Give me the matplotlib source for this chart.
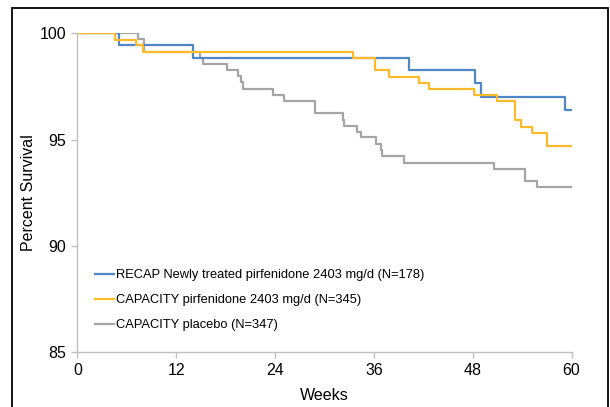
import matplotlib
matplotlib.use("Agg")
import matplotlib.pyplot as plt
from matplotlib.patches import Rectangle

plt.rcParams["font.family"] = ["Liberation Sans", "DejaVu Sans"]

# Kaplan-Meier style step data (weeks, percent survival)
recap_weeks = [0, 5.0, 14.0, 40.2, 48.3, 49.0, 59.2, 60]
recap_surv = [100, 99.47, 98.86, 98.26, 97.66, 97.02, 96.38, 96.38]

pirf_weeks = [0, 4.5, 7.1, 8.0, 33.4, 36.1, 37.8, 41.5, 42.7, 48.2, 51.0,
              53.1, 53.9, 55.2, 57.0, 60]
pirf_surv = [100, 99.70, 99.44, 99.12, 98.84, 98.26, 97.96, 97.68, 97.37,
             97.09, 96.80, 95.91, 95.61, 95.31, 94.72, 94.72]

plac_weeks = [0, 7.4, 8.1, 14.9, 15.2, 18.1, 19.5, 19.9, 20.1, 23.7, 25.1,
              28.9, 32.2, 32.4, 33.9, 34.4, 36.3, 36.9, 37.0, 39.6, 50.6,
              54.4, 55.8, 60]
plac_surv = [100, 99.72, 99.12, 98.86, 98.54, 98.26, 97.98, 97.71, 97.38,
             97.10, 96.82, 96.25, 95.94, 95.66, 95.38, 95.10, 94.80, 94.50,
             94.22, 93.90, 93.62, 93.04, 92.75, 92.75]

labels = ["RECAP Newly treated pirfenidone 2403 mg/d (N=178)",
          "CAPACITY pirfenidone 2403 mg/d (N=345)",
          "CAPACITY placebo (N=347)"]
colors = ["#4F86C6", "#FFBA2A", "#A5A5A5"]

x_ticks = [0, 12, 24, 36, 48, 60]
y_ticks = [85, 90, 95, 100]

fig = plt.figure(figsize=(6.1, 4.07), dpi=100)
ax = fig.add_axes([0.127, 0.135, 0.810, 0.783])

l3, = ax.step(plac_weeks, plac_surv, where="post", color=colors[2], lw=1.6, zorder=2)
l1, = ax.step(recap_weeks, recap_surv, where="post", color=colors[0], lw=1.6, zorder=3)
l2, = ax.step(pirf_weeks, pirf_surv, where="post", color=colors[1], lw=1.6, zorder=4)

ax.set_xlim(0, 60)
ax.set_ylim(85, 100)
ax.set_xticks(x_ticks)
ax.set_yticks(y_ticks)
ax.tick_params(labelsize=11.5, color="#BFBFBF", length=4, width=1, pad=4)

for s in ["top", "right"]:
    ax.spines[s].set_visible(False)
for s in ["left", "bottom"]:
    ax.spines[s].set_color("#BFBFBF")
    ax.spines[s].set_linewidth(1)

ax.set_xlabel("Weeks", fontsize=11.5, labelpad=7)
ax.set_ylabel("Percent Survival", fontsize=11.5)
ax.yaxis.set_label_coords(-0.083, 0.5)

ax.legend([l1, l2, l3], labels, loc="lower left", bbox_to_anchor=(0.035, 0.065),
          frameon=False, fontsize=9.3, handlelength=1.5, handletextpad=0.15,
          labelspacing=1.0, borderpad=0, borderaxespad=0)

# outer frame around the chart area
fig.patches.append(Rectangle((12.5 / 610, -0.1), (608 - 12.5) / 610, 1.08,
                             transform=fig.transFigure, fill=False,
                             edgecolor="black", lw=1.3))

fig.savefig("out.png", dpi=100)
